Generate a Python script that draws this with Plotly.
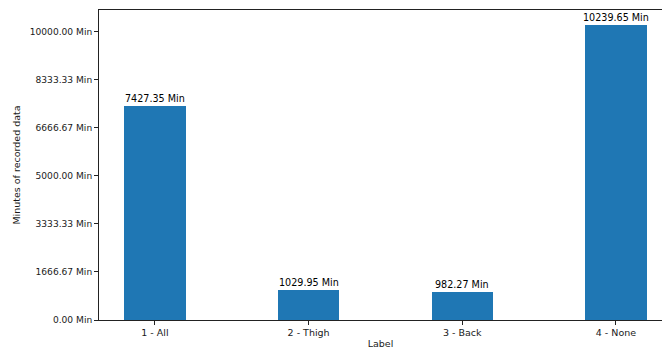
import plotly.graph_objects as go

categories = ["1 - All", "2 - Thigh", "3 - Back", "4 - None"]
minutes = [7427.35, 1029.95, 982.27, 10239.65]
y_ticks = [0, 1666.67, 3333.33, 5000.00, 6666.67, 8333.33, 10000.00]
y_tick_labels = [f"{v:.2f} Min" for v in y_ticks]

font = dict(family="DejaVu Sans", size=9.5, color="#1a1a1a")
x_pos = list(range(len(categories)))

fig = go.Figure()
fig.add_trace(go.Bar(
    x=x_pos,
    y=minutes,
    width=0.4,
    marker=dict(color="#1f77b4", line=dict(width=0)),
))

# value labels sitting just above each bar
for xi, v in zip(x_pos, minutes):
    fig.add_annotation(
        x=xi, y=v, xref="x", yref="y",
        text=f"{v:.2f} Min",
        showarrow=False,
        xanchor="center", yanchor="bottom",
        yshift=0,
        font=dict(family="DejaVu Sans", size=9.6, color="#000000"),
    )

fig.update_layout(
    width=662,
    height=351,
    margin=dict(l=99, r=0, t=10, b=31),
    paper_bgcolor="white",
    plot_bgcolor="white",
    font=font,
    showlegend=False,
    bargap=0,
)
fig.update_xaxes(
    range=[-0.364, 3.30],
    tickvals=x_pos,
    ticktext=categories,
    tickfont=dict(family="DejaVu Sans", size=9.5, color="#1a1a1a"),
    ticks="outside",
    ticklen=4,
    tickcolor="#222222",
    showline=True,
    linecolor="#222222",
    linewidth=1,
    mirror=True,
    showgrid=False,
    zeroline=False,
    title=dict(text="Label", standoff=2, font=font),
)
fig.update_yaxes(
    range=[0, 10751.6],
    tickvals=y_ticks,
    ticktext=y_tick_labels,
    tickfont=dict(family="DejaVu Sans", size=9.1, color="#1a1a1a"),
    ticks="outside",
    ticklen=4,
    tickcolor="#222222",
    showline=True,
    linecolor="#222222",
    linewidth=1,
    showgrid=False,
    zeroline=False,
    title=dict(text="Minutes of recorded data", standoff=7, font=font),
)

fig.write_html("out.html")
